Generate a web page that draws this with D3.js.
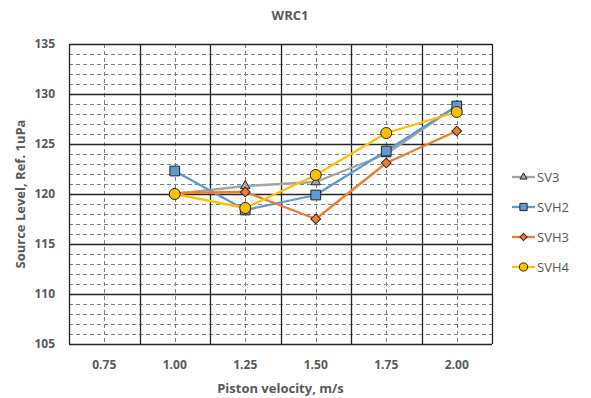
<!DOCTYPE html>
<html>
<head>
<meta charset="utf-8">
<script src="https://cdn.jsdelivr.net/npm/d3@7"></script>
<style>
  body { margin: 0; background: #fff; }
  svg { display: block; font-family: 'Open Sans', 'Liberation Sans', sans-serif; }
</style>
</head>
<body>
<div id="chart"></div>
<script>
'use strict';

const categories = ['0.75', '1.00', '1.25', '1.50', '1.75', '2.00'];
const yTicks = [105, 110, 115, 120, 125, 130, 135];

// values per category; null = no point
const sv3 = [null, 120.0, 120.8, 121.2, 124.0, 128.8];
const svh2 = [null, 122.3, 118.4, 119.9, 124.3, 128.8];
const svh3 = [null, 120.1, 120.2, 117.5, 123.1, 126.3];
const svh4 = [null, 120.0, 118.6, 121.9, 126.1, 128.2];

const series = [
  { name: 'SV3', values: sv3, color: '#A5A5A5', fill: '#A5A5A5', marker: 'triangle' },
  { name: 'SVH2', values: svh2, color: '#5B9BD5', fill: '#5B9BD5', marker: 'square' },
  { name: 'SVH3', values: svh3, color: '#ED7D31', fill: '#ED7D31', marker: 'diamond' },
  { name: 'SVH4', values: svh4, color: '#FFC000', fill: '#FFC000', marker: 'circle' },
];

const W = 591;
const H = 398;
const plot = { left: 69, top: 44, right: 492, bottom: 344 };
const textColor = '#595959';

const svg = d3.select('#chart')
  .append('svg')
  .attr('width', W)
  .attr('height', H);

const xScale = d3.scaleBand()
  .domain(categories)
  .range([plot.left, plot.right]);

const xMid = c => xScale(c) + xScale.bandwidth() / 2;

const yScale = d3.scaleLinear()
  .domain([105, 135])
  .range([plot.bottom, plot.top]);

const grid = svg.append('g');

// minor horizontal gridlines
grid.selectAll('line.hminor')
  .data(d3.range(105, 136, 1).filter(v => v % 5 !== 0))
  .enter()
  .append('line')
  .attr('x1', plot.left)
  .attr('x2', plot.right)
  .attr('y1', d => Math.round(yScale(d)) + 0.5)
  .attr('y2', d => Math.round(yScale(d)) + 0.5)
  .attr('stroke', '#808080')
  .attr('stroke-width', 1)
  .attr('stroke-dasharray', '4,3');

// minor vertical gridlines at category centers
grid.selectAll('line.vminor')
  .data(categories)
  .enter()
  .append('line')
  .attr('x1', d => Math.round(xMid(d)) + 0.5)
  .attr('x2', d => Math.round(xMid(d)) + 0.5)
  .attr('y1', plot.top)
  .attr('y2', plot.bottom)
  .attr('stroke', '#808080')
  .attr('stroke-width', 1)
  .attr('stroke-dasharray', '4,3');

// major horizontal gridlines
grid.selectAll('line.hmajor')
  .data(yTicks)
  .enter()
  .append('line')
  .attr('x1', plot.left)
  .attr('x2', plot.right)
  .attr('y1', d => Math.round(yScale(d)) + 0.5)
  .attr('y2', d => Math.round(yScale(d)) + 0.5)
  .attr('stroke', '#262626')
  .attr('stroke-width', 1.3);

// major vertical gridlines at category boundaries
grid.selectAll('line.vmajor')
  .data(categories.concat(['end']))
  .enter()
  .append('line')
  .attr('x1', (d, i) => Math.round(i < categories.length ? xScale(d) : plot.right) + 0.5)
  .attr('x2', (d, i) => Math.round(i < categories.length ? xScale(d) : plot.right) + 0.5)
  .attr('y1', plot.top)
  .attr('y2', plot.bottom)
  .attr('stroke', '#262626')
  .attr('stroke-width', 1.3);

// y tick labels
svg.append('g')
  .selectAll('text')
  .data(yTicks)
  .enter()
  .append('text')
  .attr('x', 55)
  .attr('y', d => yScale(d) + 4)
  .attr('text-anchor', 'end')
  .attr('font-size', 12)
  .attr('font-weight', 'bold')
  .attr('fill', textColor)
  .text(d => d);

// x tick labels
svg.append('g')
  .selectAll('text')
  .data(categories)
  .enter()
  .append('text')
  .attr('x', d => xMid(d))
  .attr('y', 369)
  .attr('text-anchor', 'middle')
  .attr('font-size', 12)
  .attr('font-weight', 'bold')
  .attr('fill', textColor)
  .text(d => d);

// diamond drawn as a square turned 45 degrees
const markerPath = (type, size) => {
  const sym = {
    triangle: d3.symbolTriangle,
    square: d3.symbolSquare,
    diamond: d3.symbolSquare,
    circle: d3.symbolCircle,
  }[type];
  return d3.symbol().type(sym).size(size)();
};
const markerRotate = type => (type === 'diamond' ? ' rotate(45)' : '');

const markerSize = { triangle: 40, square: 95, diamond: 48, circle: 95 };

const line = d3.line()
  .defined(d => d.v !== null)
  .x(d => xMid(d.c))
  .y(d => yScale(d.v));

series.forEach(s => {
  const pts = s.values.map((v, i) => ({ c: categories[i], v: v }));
  svg.append('path')
    .datum(pts)
    .attr('fill', 'none')
    .attr('stroke', s.color)
    .attr('stroke-width', 2.3)
    .attr('stroke-linejoin', 'round')
    .attr('d', line);
});

series.forEach(s => {
  const pts = s.values.map((v, i) => ({ c: categories[i], v: v })).filter(d => d.v !== null);
  svg.append('g')
    .selectAll('path')
    .data(pts)
    .enter()
    .append('path')
    .attr('transform', d => `translate(${xMid(d.c)}, ${yScale(d.v)})` + markerRotate(s.marker))
    .attr('d', markerPath(s.marker, markerSize[s.marker]))
    .attr('fill', s.fill)
    .attr('stroke', '#262626')
    .attr('stroke-width', 1);
});

// legend
const legend = svg.append('g')
  .selectAll('g')
  .data(series)
  .enter()
  .append('g')
  .attr('transform', (d, i) => `translate(512, ${177 + i * 30})`);

legend.append('line')
  .attr('x1', 0)
  .attr('x2', 23)
  .attr('stroke', d => d.color)
  .attr('stroke-width', 2.3);

legend.append('path')
  .attr('transform', d => 'translate(11.5, 0)' + markerRotate(d.marker))
  .attr('d', d => markerPath(d.marker, markerSize[d.marker] * 0.55))
  .attr('fill', d => d.fill)
  .attr('stroke', '#262626')
  .attr('stroke-width', 1);

legend.append('text')
  .attr('x', 25)
  .attr('y', 5)
  .attr('font-size', 13)
  .attr('fill', textColor)
  .text(d => d.name);

// title and axis labels
svg.append('text')
  .attr('x', 290)
  .attr('y', 20)
  .attr('text-anchor', 'middle')
  .attr('font-size', 13)
  .attr('font-weight', 'bold')
  .attr('fill', textColor)
  .text('WRC1');

svg.append('text')
  .attr('transform', `translate(25, ${(plot.top + plot.bottom) / 2}) rotate(-90)`)
  .attr('text-anchor', 'middle')
  .attr('font-size', 13)
  .attr('font-weight', 'bold')
  .attr('fill', textColor)
  .text('Source Level, Ref. 1uPa');

svg.append('text')
  .attr('x', (plot.left + plot.right) / 2)
  .attr('y', 393)
  .attr('text-anchor', 'middle')
  .attr('font-size', 13)
  .attr('font-weight', 'bold')
  .attr('fill', textColor)
  .text('Piston velocity, m/s');
</script>
</body>
</html>
